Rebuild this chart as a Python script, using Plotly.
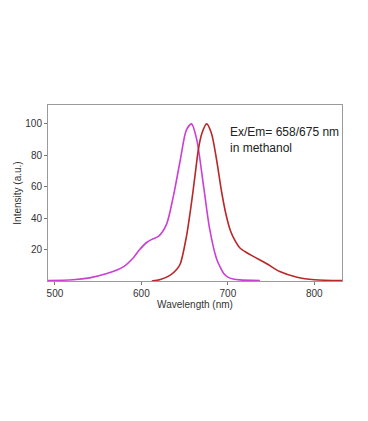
import plotly.graph_objects as go

# Excitation spectrum (magenta)
ex_wl = [492, 521, 540, 560, 579, 591, 598, 606, 612, 620, 629, 637, 645, 652, 658,
         664, 672, 679, 687, 691, 695, 700, 706, 714, 737]
ex_int = [0.3, 0.8, 2.0, 4.7, 9.0, 15.0, 20.0, 24.5, 26.5, 28.5, 36.0, 54.0, 77.0, 96.0, 100.0,
          90.0, 60.0, 33.0, 14.0, 9.0, 5.0, 2.5, 1.3, 0.7, 0.3]

# Emission spectrum (red)
em_wl = [612, 622, 633, 641, 645, 652, 658, 662, 666, 670, 675.5, 681, 687, 693, 698,
         703, 708, 714, 722, 730, 745, 760, 780, 800, 832]
em_int = [0.0, 1.0, 3.6, 7.5, 11.0, 28.0, 50.0, 67.0, 84.0, 94.0, 100.0, 94.0, 77.0, 56.0, 42.0,
          32.0, 26.0, 21.0, 18.0, 15.5, 11.0, 6.0, 2.4, 0.8, 0.3]

x_ticks = [500, 600, 700, 800]
y_ticks = [20, 40, 60, 80, 100]

fig = go.Figure()
fig.add_trace(go.Scatter(x=ex_wl, y=ex_int, mode="lines",
                         line=dict(color="#CC3FD6", width=1.6, shape="spline", smoothing=0.8),
                         showlegend=False, hoverinfo="skip"))
fig.add_trace(go.Scatter(x=em_wl, y=em_int, mode="lines",
                         line=dict(color="#B82828", width=1.6, shape="spline", smoothing=0.8),
                         showlegend=False, hoverinfo="skip"))

fig.add_annotation(x=700.2, y=89.5, xref="x", yref="y", xanchor="left", yanchor="middle",
                   align="left", showarrow=False,
                   text="Ex/Em= 658/675 nm<br>in methanol",
                   font=dict(family="Liberation Sans, Arial", size=12, color="#222"))

axis_common = dict(showline=True, linecolor="#9a9a9a", linewidth=1, mirror=True,
                   showgrid=False, zeroline=False, ticks="outside", ticklen=3,
                   tickcolor="#777", tickfont=dict(family="Liberation Sans, Arial", size=10, color="#333"))

fig.update_xaxes(range=[492, 832], tickvals=x_ticks, ticktext=[str(v) for v in x_ticks],
                 title=dict(text="Wavelength (nm)", standoff=1,
                            font=dict(family="Liberation Sans, Arial", size=10, color="#333")),
                 **axis_common)
fig.update_yaxes(range=[0, 112], tickvals=y_ticks, ticktext=[str(v) for v in y_ticks],
                 title=dict(text="Intensity (a.u.)", standoff=1,
                            font=dict(family="Liberation Sans, Arial", size=10, color="#333")),
                 **axis_common)

fig.update_layout(width=368, height=421, margin=dict(l=40, r=34, t=97, b=148, autoexpand=False),
                  paper_bgcolor="white", plot_bgcolor="white")

fig.write_html("out.html")
